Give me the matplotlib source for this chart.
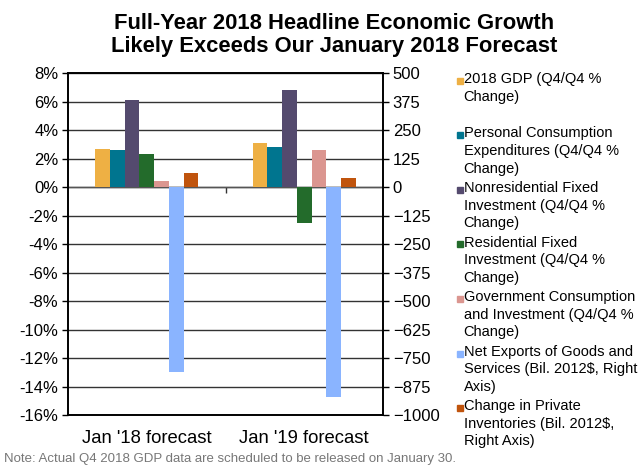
import numpy as np
import matplotlib.pyplot as plt
from matplotlib.patches import Rectangle

plt.rcParams['font.family'] = ['Liberation Sans', 'DejaVu Sans']

categories = ["Jan '18 forecast", "Jan '19 forecast"]
# left axis series (Q4/Q4 % change)
gdp = [2.7, 3.1]
pce = [2.6, 2.8]
nonres = [6.1, 6.8]
res = [2.3, -2.5]
gov = [0.4, 2.6]
# right axis series (Bil. 2012$)
net_exports = [-811, -922]
inventories = [62, 41]

labels = ["2018 GDP (Q4/Q4 %\nChange)",
          "Personal Consumption\nExpenditures (Q4/Q4 %\nChange)",
          "Nonresidential Fixed\nInvestment (Q4/Q4 %\nChange)",
          "Residential Fixed\nInvestment (Q4/Q4 %\nChange)",
          "Government Consumption\nand Investment (Q4/Q4 %\nChange)",
          "Net Exports of Goods and\nServices (Bil. 2012$, Right\nAxis)",
          "Change in Private\nInventories (Bil. 2012$,\nRight Axis)"]
colors = ['#EEB044', '#00758F', '#544A6E', '#236B2B', '#DB9690', '#8AB4FF', '#C0540D']

fig = plt.figure(figsize=(6.39, 4.65), dpi=100)
ax = fig.add_axes([0.1064, 0.1075, 0.493, 0.7355])
ax2 = ax.twinx()

x = np.arange(len(categories))
w = 0.0935
left_series = [gdp, pce, nonres, res, gov]
for i, vals in enumerate(left_series):
    ax.bar(x + (i - 3) * w, vals, w, color=colors[i], zorder=3)
ax2.bar(x + 2 * w, net_exports, w, color=colors[5], zorder=3)
ax2.bar(x + 3 * w, inventories, w, color=colors[6], zorder=3)

ax.set_xlim(-0.5, 1.5)
ax.set_ylim(-16, 8)
ax2.set_ylim(-1000, 500)
ax.set_yticks(np.arange(-16, 9, 2))
ax.set_yticklabels([f'{v}%' for v in range(-16, 9, 2)])
ax2.set_yticks(np.arange(-1000, 501, 125))
ax.set_xticks(x)
ax.set_xticklabels(categories, fontsize=13.3)
ax.tick_params(axis='x', length=0, pad=11)
ax.tick_params(axis='y', labelsize=12, length=4, width=1, pad=3)
ax2.tick_params(axis='y', labelsize=12, length=4, width=1, pad=3)
ax.grid(axis='y', color='#333333', lw=1, zorder=0)
ax.axhline(0, color='#555555', lw=1, zorder=2)
for a in (ax, ax2):
    for s in a.spines.values():
        s.set_color('black')
        s.set_linewidth(1.2)

# category divider tick on the zero line
zero_ax = ax.secondary_xaxis(16 / 24)
zero_ax.set_xticks([0.5])
zero_ax.set_xticklabels([''])
zero_ax.tick_params(length=4, width=1, direction='in', color='#333333')
zero_ax.spines['bottom'].set_visible(False)
zero_ax.spines['top'].set_visible(False)

fig.text(0.523, 0.950, "Full-Year 2018 Headline Economic Growth",
         ha='center', va='center', fontsize=15.8, fontweight='bold')
fig.text(0.523, 0.900, "Likely Exceeds Our January 2018 Forecast",
         ha='center', va='center', fontsize=15.8, fontweight='bold')

# legend drawn beside the plot
for i, (lab, c) in enumerate(zip(labels, colors)):
    yc = 80 + i * 54.5
    fig.patches.append(Rectangle((456.5 / 639, 1 - (yc + 4) / 465), 6 / 639, 6 / 465,
                                 transform=fig.transFigure, color=c))
    fig.text(463.5 / 639, 1 - (yc - 8) / 465, lab, ha='left', va='top',
             fontsize=10.5, linespacing=1.33)

fig.text(4 / 639, 1 - 459 / 465, "Note: Actual Q4 2018 GDP data are scheduled to be released on January 30.",
         ha='left', va='center', fontsize=9.5, color='#777777')

fig.savefig('out.png', dpi=100)
